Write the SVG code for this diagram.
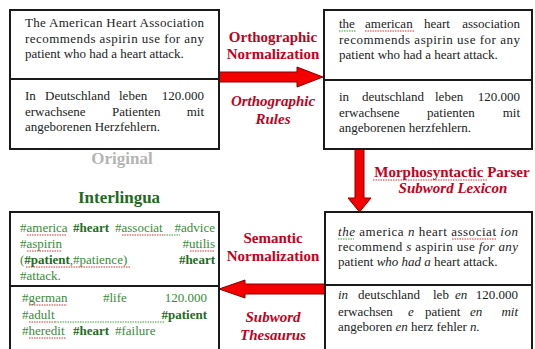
<svg xmlns="http://www.w3.org/2000/svg" width="535" height="349" viewBox="0 0 535 349" font-family="Liberation Serif, DejaVu Serif, serif">
  <style>
    .box { fill: #ffffff; stroke: #1a1a1a; stroke-width: 2; }
    .dv { stroke: #1a1a1a; stroke-width: 2; }
    .tx { font-size: 13px; fill: #222222; }
    .gr { font-size: 13px; fill: #3a8a3a; }
    .gb { font-weight: bold; fill: #1f6b1f; }
    .it { font-style: italic; }
    .lbl { font-size: 15px; font-weight: bold; fill: #c4001c; text-anchor: middle; }
    .cap { font-size: 17px; font-weight: bold; text-anchor: middle; }
    .arrow { fill: #f40000; stroke: #8a0000; stroke-width: 1; }
    .sqr { stroke: #e03030; stroke-width: 1; stroke-dasharray: 1.5 1; fill: none; }
    .sqg { stroke: #3aa03a; stroke-width: 1; stroke-dasharray: 1.5 1; fill: none; }
  </style>
  <rect width="535" height="349" fill="#fff"/>

  <g id="connectors">
    <polygon class="arrow" points="219,72 297,72 297,67 323,77 297,87 297,82 219,82"/>
    <polygon class="arrow" points="355,149 364,149 364,198 371,198 359.5,212 348,198 355,198"/>
    <polygon class="arrow" points="325,284 245,284 245,280 219,289 245,298 245,294 325,294"/>
    <text class="lbl" font-family="Liberation Serif, DejaVu Serif, serif" x="273" y="42">Orthographic</text>
    <text class="lbl" font-family="Liberation Serif, DejaVu Serif, serif" x="273" y="59">Normalization</text>
    <text class="lbl it" font-family="Liberation Serif, DejaVu Serif, serif" x="273" y="106">Orthographic</text>
    <text class="lbl it" font-family="Liberation Serif, DejaVu Serif, serif" x="273" y="124">Rules</text>
    <text class="lbl" font-family="Liberation Serif, DejaVu Serif, serif" x="452" y="177">Morphosyntactic Parser</text>
    <path class="sqr" d="M373,180 H488"/>
    <text class="lbl it" font-family="Liberation Serif, DejaVu Serif, serif" x="453" y="193">Subword Lexicon</text>
    <text class="lbl" font-family="Liberation Serif, DejaVu Serif, serif" x="273" y="243">Semantic</text>
    <text class="lbl" font-family="Liberation Serif, DejaVu Serif, serif" x="273" y="261">Normalization</text>
    <text class="lbl it" font-family="Liberation Serif, DejaVu Serif, serif" x="273" y="322">Subword</text>
    <text class="lbl it" font-family="Liberation Serif, DejaVu Serif, serif" x="273" y="340">Thesaurus</text>
  </g>

  <g id="original">
    <rect class="box" x="10" y="10" width="209" height="139"/>
    <line class="dv" x1="10" y1="79" x2="219" y2="79"/>
    <text class="tx" font-family="Liberation Serif, DejaVu Serif, serif" x="25" y="27" textLength="179" lengthAdjust="spacing">The American Heart Association</text>
    <text class="tx" font-family="Liberation Serif, DejaVu Serif, serif" x="25" y="43" textLength="179" lengthAdjust="spacing">recommends aspirin use for any</text>
    <text class="tx" font-family="Liberation Serif, DejaVu Serif, serif" x="25" y="58">patient who had a heart attack.</text>
    <text class="tx" font-family="Liberation Serif, DejaVu Serif, serif" y="100"><tspan x="25">In</tspan><tspan x="45">Deutschland</tspan><tspan x="119">leben</tspan><tspan x="204" text-anchor="end">120.000</tspan></text>
    <text class="tx" font-family="Liberation Serif, DejaVu Serif, serif" y="116"><tspan x="25">erwachsene</tspan><tspan x="112">Patienten</tspan><tspan x="204" text-anchor="end">mit</tspan></text>
    <text class="tx" font-family="Liberation Serif, DejaVu Serif, serif" x="25" y="131">angeborenen Herzfehlern.</text>
    <text class="cap" font-family="Liberation Serif, DejaVu Serif, serif" x="122" y="164" fill="#b4b4b4">Original</text>
  </g>

  <g id="normalized">
    <rect class="box" x="324" y="10" width="208" height="139"/>
    <line class="dv" x1="324" y1="80" x2="532" y2="80"/>
    <text class="tx" font-family="Liberation Serif, DejaVu Serif, serif" y="28"><tspan x="339">the</tspan><tspan x="365">american</tspan><tspan x="424">heart</tspan><tspan x="520" text-anchor="end">association</tspan></text>
    <path class="sqg" d="M339,31 H356"/>
    <path class="sqr" d="M365,31 H414"/>
    <text class="tx" font-family="Liberation Serif, DejaVu Serif, serif" x="339" y="44" textLength="181" lengthAdjust="spacing">recommends aspirin use for any</text>
    <text class="tx" font-family="Liberation Serif, DejaVu Serif, serif" x="339" y="59">patient who had a heart attack.</text>
    <text class="tx" font-family="Liberation Serif, DejaVu Serif, serif" y="101"><tspan x="339">in</tspan><tspan x="362">deutschland</tspan><tspan x="435">leben</tspan><tspan x="520" text-anchor="end">120.000</tspan></text>
    <text class="tx" font-family="Liberation Serif, DejaVu Serif, serif" y="117"><tspan x="339">erwachsene</tspan><tspan x="427">patienten</tspan><tspan x="520" text-anchor="end">mit</tspan></text>
    <text class="tx" font-family="Liberation Serif, DejaVu Serif, serif" x="339" y="132">angeborenen herzfehlern.</text>
  </g>

  <g id="segmented">
    <rect class="box" x="325" y="212" width="207" height="140"/>
    <line class="dv" x1="325" y1="285" x2="532" y2="285"/>
    <text class="tx" font-family="Liberation Serif, DejaVu Serif, serif" x="338" y="236" textLength="180" lengthAdjust="spacing"><tspan class="it">the</tspan> america <tspan class="it">n</tspan> heart associat <tspan class="it">ion</tspan></text>
    <path class="sqg" d="M338,239 H354"/>
    <path class="sqr" d="M452,239 H497"/>
    <text class="tx" font-family="Liberation Serif, DejaVu Serif, serif" x="338" y="251" textLength="180" lengthAdjust="spacing">recommend <tspan class="it">s</tspan> aspirin use <tspan class="it">for any</tspan></text>
    <text class="tx" font-family="Liberation Serif, DejaVu Serif, serif" x="338" y="266">patient <tspan class="it">who had a</tspan> heart attack.</text>
    <text class="tx" font-family="Liberation Serif, DejaVu Serif, serif" y="299"><tspan class="it" x="338">in</tspan><tspan x="358">deutschland</tspan><tspan x="433">leb</tspan><tspan class="it" x="455">en</tspan><tspan x="518" text-anchor="end">120.000</tspan></text>
    <text class="tx" font-family="Liberation Serif, DejaVu Serif, serif" y="316"><tspan x="338">erwachsen</tspan><tspan class="it" x="408">e</tspan><tspan x="425">patient</tspan><tspan class="it" x="470">en</tspan><tspan class="it" x="518" text-anchor="end">mit</tspan></text>
    <text class="tx" font-family="Liberation Serif, DejaVu Serif, serif" x="338" y="331">angeboren <tspan class="it">en</tspan> herz fehler <tspan class="it">n.</tspan></text>
  </g>

  <g id="interlingua">
    <text class="cap" font-family="Liberation Serif, DejaVu Serif, serif" x="119" y="203" fill="#1f6b1f">Interlingua</text>
    <rect class="box" x="10" y="212" width="209" height="140"/>
    <line class="dv" x1="10" y1="286" x2="219" y2="286"/>
    <text class="gr" font-family="Liberation Serif, DejaVu Serif, serif" y="232"><tspan x="20">#america</tspan><tspan class="gb" x="73">#heart</tspan><tspan x="115">#associat</tspan><tspan x="215" text-anchor="end">#advice</tspan></text>
    <path class="sqr" d="M27,235 H67"/>
    <path class="sqr" d="M122,235 H164"/>
    <path class="sqg" d="M164,235 H180"/>
    <text class="gr" font-family="Liberation Serif, DejaVu Serif, serif" y="248"><tspan x="20">#aspirin</tspan><tspan x="215" text-anchor="end">#utilis</tspan></text>
    <path class="sqr" d="M27,251 H62"/>
    <path class="sqr" d="M190,251 H215"/>
    <text class="gr" font-family="Liberation Serif, DejaVu Serif, serif" y="264"><tspan x="20">(<tspan class="gb">#patient</tspan>,#patience)</tspan><tspan class="gb" x="215" text-anchor="end">#heart</tspan></text>
    <path class="sqr" d="M26,267 H130"/>
    <text class="gr" font-family="Liberation Serif, DejaVu Serif, serif" x="20" y="280">#attack.</text>
    <text class="gr" font-family="Liberation Serif, DejaVu Serif, serif" y="302"><tspan x="22">#german</tspan><tspan x="103">#life</tspan><tspan x="207" text-anchor="end">120.000</tspan></text>
    <path class="sqr" d="M29,305 H67"/>
    <text class="gr" font-family="Liberation Serif, DejaVu Serif, serif" y="319"><tspan x="22">#adult</tspan><tspan class="gb" x="207" text-anchor="end">#patient</tspan></text>
    <path class="sqr" d="M29,322 H55"/>
    <path class="sqg" d="M55,322 H165"/>
    <text class="gr" font-family="Liberation Serif, DejaVu Serif, serif" y="335"><tspan x="22">#heredit</tspan><tspan class="gb" x="73">#heart</tspan><tspan x="115">#failure</tspan></text>
    <path class="sqr" d="M29,338 H66"/>
  </g>
</svg>
